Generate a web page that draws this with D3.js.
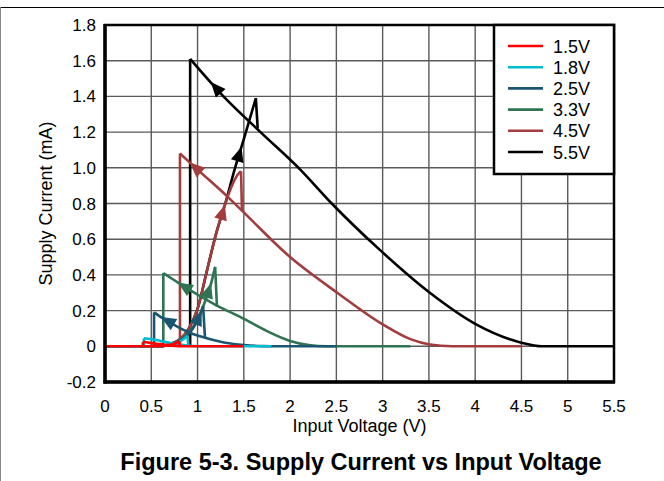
<!DOCTYPE html>
<html>
<head>
<meta charset="utf-8">
<script src="https://cdn.jsdelivr.net/npm/d3@7"></script>
<style>
	body { margin: 0; background: #fff; }
	text { font-family: "Liberation Sans", Arial, sans-serif; }
</style>
</head>
<body>
<svg id="chart" width="664" height="481"></svg>
<script>
// DATA
let labels = ['1.5V', '1.8V', '2.5V', '3.3V', '4.5V', '5.5V'];
let xTicks = [0, 0.5, 1, 1.5, 2, 2.5, 3, 3.5, 4, 4.5, 5, 5.5];
let xTickLabels = ['0', '0.5', '1', '1.5', '2', '2.5', '3', '3.5', '4', '4.5', '5', '5.5'];
let yTicks = [-0.2, 0, 0.2, 0.4, 0.6, 0.8, 1.0, 1.2, 1.4, 1.6, 1.8];
let yTickLabels = ['-0.2', '0', '0.2', '0.4', '0.6', '0.8', '1.0', '1.2', '1.4', '1.6', '1.8'];

// up-sweep: rising branch, then drop onto the falling branch
let rise15 = [[0, 0], [0.6, 0], [0.7, 0.008], [0.78, 0.022], [0.8, 0.03]];
let rise18 = [[0, 0], [0.6, 0], [0.7, 0.01], [0.8, 0.025], [0.86, 0.045], [0.89, 0.06]];
let rise25 = [[0, 0], [0.6, 0], [0.7, 0.01], [0.8, 0.03], [0.9, 0.065], [0.98, 0.125], [1.03, 0.18], [1.06, 0.225]];
let rise33 = [[0, 0], [0.6, 0], [0.7, 0.01], [0.8, 0.03], [0.9, 0.075], [1.0, 0.15], [1.08, 0.25], [1.14, 0.34], [1.19, 0.445]];
let rise45 = [[0, 0], [0.55, 0], [0.7, 0.012], [0.8, 0.035], [0.9, 0.095], [1.0, 0.21], [1.1, 0.42], [1.2, 0.63], [1.3, 0.80], [1.38, 0.91], [1.44, 0.965], [1.47, 0.98]];
let rise55 = [[0, 0], [0.55, 0], [0.7, 0.012], [0.8, 0.035], [0.9, 0.095], [1.0, 0.21], [1.1, 0.42], [1.2, 0.63], [1.3, 0.80], [1.4, 0.99], [1.5, 1.16], [1.63, 1.39]];
let drops = [[0.81, 0.002], [0.9, 0.005], [1.08, 0.05], [1.21, 0.22], [1.48, 0.76], [1.65, 1.22]];

// down-sweep: falling branch from the left peak out to the supply voltage
let fall15 = [[0.41, 0.025], [0.5, 0.018], [0.6, 0.012], [0.7, 0.005], [0.8, 0.001], [0.9, 0], [1.5, 0]];
let fall18 = [[0.42, 0.045], [0.5, 0.04], [0.6, 0.03], [0.7, 0.02], [0.81, 0.01], [0.95, 0.002], [1.1, 0], [1.8, 0]];
let fall25 = [[0.53, 0.19], [0.6, 0.165], [0.7, 0.135], [0.8, 0.105], [0.9, 0.08], [1.0, 0.06], [1.1, 0.045], [1.3, 0.02], [1.5, 0.007], [1.7, 0.001], [1.9, 0], [2.5, 0]];
let fall33 = [[0.63, 0.41], [0.75, 0.37], [0.87, 0.33], [1.0, 0.29], [1.22, 0.225], [1.46, 0.165], [1.75, 0.085], [2.0, 0.03], [2.2, 0.007], [2.4, 0], [3.3, 0]];
let fall45 = [[0.81, 1.08], [1.0, 0.99], [1.32, 0.84], [1.48, 0.76], [2.0, 0.50], [2.51, 0.30], [3.01, 0.12], [3.3, 0.04], [3.51, 0.01], [3.75, 0], [4.5, 0]];
let fall55 = [[0.92, 1.61], [1.28, 1.40], [1.68, 1.20], [2.11, 0.99], [2.45, 0.80], [2.97, 0.54], [3.51, 0.30], [4.02, 0.12], [4.5, 0.02], [4.72, 0], [5.5, 0]];

// where the direction arrows sit (input voltage), null = none
let arrowRise = [null, null, 1.01, 1.12, 1.27, 1.45];
let arrowFall = [null, null, 0.68, 0.86, 0.98, 1.2];

let rises = [rise15, rise18, rise25, rise33, rise45, rise55];
let falls = [fall15, fall18, fall25, fall33, fall45, fall55];

let colors = ['#ff0000', '#00bcd0', '#1a5670', '#2e7352', '#a33c3c', '#000000'];

// LAYOUT
let svg = d3.select('#chart');
let pLeft = 105, pRight = 614, pTop = 25, pBottom = 382;

let x = d3.scaleLinear().domain([0, 5.5]).range([pLeft, pRight]);
let y = d3.scaleLinear().domain([-0.2, 1.8]).range([pBottom, pTop]);

// outer figure frame
svg.append('line').attr('x1', 0).attr('x2', 664).attr('y1', 7.5).attr('y2', 7.5)
	.attr('stroke', '#000').attr('stroke-width', 1);
svg.append('line').attr('x1', 0.5).attr('x2', 0.5).attr('y1', 7).attr('y2', 481)
	.attr('stroke', '#888').attr('stroke-width', 1);

// grid
let grid = svg.append('g');
grid.selectAll('line.v')
	.data(xTicks.slice(1, -1))
	.enter().append('line')
	.attr('x1', d => x(d)).attr('x2', d => x(d))
	.attr('y1', pTop).attr('y2', pBottom)
	.attr('stroke', '#5a5a5a').attr('stroke-width', 1.4);
grid.selectAll('line.h')
	.data(yTicks.slice(1, -1))
	.enter().append('line')
	.attr('x1', pLeft).attr('x2', pRight)
	.attr('y1', d => y(d)).attr('y2', d => y(d))
	.attr('stroke', '#5a5a5a').attr('stroke-width', 1.4);

// curves
let smooth = d3.line().x(d => x(d[0])).y(d => y(d[1])).curve(d3.curveMonotoneX);
let straight = d3.line().x(d => x(d[0])).y(d => y(d[1]));

let plot = svg.append('g');

function interp(pts, v) {
	for (let i = 0; i < pts.length - 1; i++) {
		if (v >= pts[i][0] && v <= pts[i + 1][0]) {
			let t = (v - pts[i][0]) / (pts[i + 1][0] - pts[i][0]);
			return pts[i][1] + t * (pts[i + 1][1] - pts[i][1]);
		}
	}
	return pts[pts.length - 1][1];
}

function drawArrow(g, pts, v, dir, color) {
	let dv = 0.03;
	let px = x(v), py = y(interp(pts, v));
	let qx = x(v + dir * dv), qy = y(interp(pts, v + dir * dv));
	let ang = Math.atan2(qy - py, qx - px) * 180 / Math.PI;
	g.append('path')
		.attr('d', 'M8,0 L-7,-6.5 L-7,6.5 Z')
		.attr('fill', color)
		.attr('transform', 'translate(' + px + ',' + py + ') rotate(' + ang + ')');
}

for (let i = labels.length - 1; i >= 0; i--) {
	let g = plot.append('g');
	let c = colors[i];
	let rise = rises[i], fall = falls[i];
	let peak = rise[rise.length - 1];

	g.append('path').attr('d', smooth(rise))
		.attr('fill', 'none').attr('stroke', c).attr('stroke-width', 2.6);
	g.append('path').attr('d', straight([peak, drops[i]]))
		.attr('fill', 'none').attr('stroke', c).attr('stroke-width', 2.6);
	g.append('path').attr('d', straight([[fall[0][0], 0], fall[0]]))
		.attr('fill', 'none').attr('stroke', c).attr('stroke-width', 2.6);
	g.append('path').attr('d', smooth(fall))
		.attr('fill', 'none').attr('stroke', c).attr('stroke-width', 2.6);

	if (arrowRise[i] != null) drawArrow(g, rise, arrowRise[i], 1, c);
	if (arrowFall[i] != null) drawArrow(g, fall, arrowFall[i], -1, c);
}

// plot frame
svg.append('rect')
	.attr('x', pLeft).attr('y', pTop)
	.attr('width', pRight - pLeft).attr('height', pBottom - pTop)
	.attr('fill', 'none').attr('stroke', '#000').attr('stroke-width', 2.5);
svg.append('line').attr('x1', pLeft).attr('x2', pLeft).attr('y1', pTop - 1).attr('y2', pBottom + 1.5)
	.attr('stroke', '#000').attr('stroke-width', 3.5);
svg.append('line').attr('x1', pLeft - 1.5).attr('x2', pRight + 1).attr('y1', pBottom).attr('y2', pBottom)
	.attr('stroke', '#000').attr('stroke-width', 3.5);

// tick labels
svg.append('g').selectAll('text')
	.data(xTicks)
	.enter().append('text')
	.attr('x', d => x(d)).attr('y', 412)
	.attr('text-anchor', 'middle')
	.attr('font-size', 17)
	.text((d, i) => xTickLabels[i]);

svg.append('g').selectAll('text')
	.data(yTicks)
	.enter().append('text')
	.attr('x', 96).attr('y', d => y(d) + 6)
	.attr('text-anchor', 'end')
	.attr('font-size', 17)
	.text((d, i) => yTickLabels[i]);

// axis titles
svg.append('text')
	.attr('x', (pLeft + pRight) / 2).attr('y', 432)
	.attr('text-anchor', 'middle').attr('font-size', 18)
	.text('Input Voltage (V)');
svg.append('text')
	.attr('transform', 'translate(52,' + (pTop + pBottom) / 2 + ') rotate(-90)')
	.attr('text-anchor', 'middle').attr('font-size', 18)
	.text('Supply Current (mA)');

svg.append('text')
	.attr('x', 361).attr('y', 470)
	.attr('text-anchor', 'middle').attr('font-size', 23.5).attr('font-weight', 'bold')
	.text('Figure 5-3. Supply Current vs Input Voltage');

// legend
let legend = svg.append('g');
legend.append('rect')
	.attr('x', 494).attr('y', pTop).attr('width', pRight - 494).attr('height', 149)
	.attr('fill', '#fff').attr('stroke', '#000').attr('stroke-width', 2.5);
let rows = legend.selectAll('g.row')
	.data(labels)
	.enter().append('g')
	.attr('transform', (d, i) => 'translate(0,' + (46 + i * 21.2) + ')');
rows.append('line')
	.attr('x1', 508).attr('x2', 543)
	.attr('stroke', (d, i) => colors[i]).attr('stroke-width', 2.6);
rows.append('text')
	.attr('x', 553).attr('y', 6.5)
	.attr('font-size', 18)
	.text(d => d);
</script>
</body>
</html>
